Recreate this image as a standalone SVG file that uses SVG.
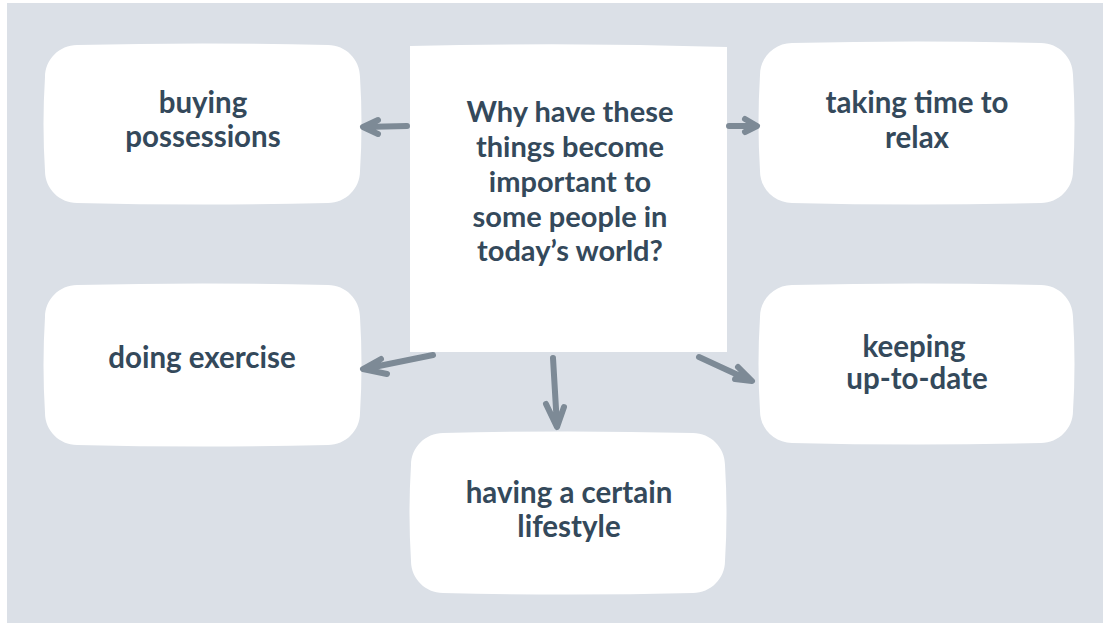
<svg xmlns="http://www.w3.org/2000/svg" width="1103" height="623" viewBox="0 0 1103 623">
<style>
.bg{fill:#dbe0e7}
.box{fill:#ffffff}
.t{font-family:Lato,"Open Sans","Liberation Sans",sans-serif;font-weight:bold;fill:#34495b;text-anchor:middle}
.c{font-size:29px}
.b{font-size:29.5px}
.arr{fill:none;stroke:#7d8a96;stroke-width:6;stroke-linecap:round;stroke-linejoin:round}
</style>
<rect x="0" y="0" width="1103" height="623" fill="#ffffff"/>
<rect class="bg" x="7" y="3" width="1096" height="620"/>
<g id="center">
<path class="box" d="M410 46 Q570 42 727 47 L727 352 L410 352 Z"/>
<text class="t c" x="570" y="122">Why have these</text>
<text class="t c" x="570" y="157">things become</text>
<text class="t c" x="570" y="192">important to</text>
<text class="t c" x="570" y="227">some people in</text>
<text class="t c" x="570" y="261">today’s world?</text>
</g>
<g id="buying">
<path class="box" d="M77 45 Q202.5 42 328 45 C345.6 45 360 59.4 360 77 Q363 124 360 171 C360 188.6 345.6 203 328 203 Q202.5 206 77 203 C59.4 203 45 188.6 45 171 Q42 124 45 77 C45 59.4 59.4 45 77 45Z"/>
<text class="t b" x="203" y="113">buying</text>
<text class="t b" x="203" y="147">possessions</text>
</g>
<g id="exercise">
<path class="box" d="M77 285 Q202.5 282 328 285 C345.6 285 360 299.4 360 317 Q363 365 360 413 C360 430.6 345.6 445 328 445 Q202.5 448 77 445 C59.4 445 45 430.6 45 413 Q42 365 45 317 C45 299.4 59.4 285 77 285Z"/>
<text class="t b" x="202" y="368">doing exercise</text>
</g>
<g id="relax">
<path class="box" d="M792 43 Q916.5 40 1041 43 C1058.6 43 1073 57.4 1073 75 Q1076 123 1073 171 C1073 188.6 1058.6 203 1041 203 Q916.5 206 792 203 C774.4 203 760 188.6 760 171 Q757 123 760 75 C760 57.4 774.4 43 792 43Z"/>
<text class="t b" x="917" y="113">taking time to</text>
<text class="t b" x="917" y="148">relax</text>
</g>
<g id="uptodate">
<path class="box" d="M792 285 Q916.5 282 1041 285 C1058.6 285 1073 299.4 1073 317 Q1076 364 1073 411 C1073 428.6 1058.6 443 1041 443 Q916.5 446 792 443 C774.4 443 760 428.6 760 411 Q757 364 760 317 C760 299.4 774.4 285 792 285Z"/>
<text class="t b" x="914" y="357">keeping</text>
<text class="t b" x="917" y="389">up-to-date</text>
</g>
<g id="lifestyle">
<path class="box" d="M443 433 Q568 430 693 433 C710.6 433 725 447.4 725 465 Q728 513 725 561 C725 578.6 710.6 593 693 593 Q568 596 443 593 C425.4 593 411 578.6 411 561 Q408 513 411 465 C411 447.4 425.4 433 443 433Z"/>
<text class="t b" x="569" y="503">having a certain</text>
<text class="t b" x="569" y="537">lifestyle</text>
</g>
<g id="connectors">
<path class="arr" d="M407 126 L364 127 M378 120 L363 127 L378 134"/>
<path class="arr" d="M729 126 L756 126 M745 119 L757 126 L745 132"/>
<path class="arr" d="M433 355 L364 369 M381 359 L363 369 L387 374"/>
<path class="arr" d="M553 358 L557 426 M546 404 L557 427 L564 407"/>
<path class="arr" d="M699 357 L751 381 M738 367 L752 381 L735 379"/>
</g>
</svg>
